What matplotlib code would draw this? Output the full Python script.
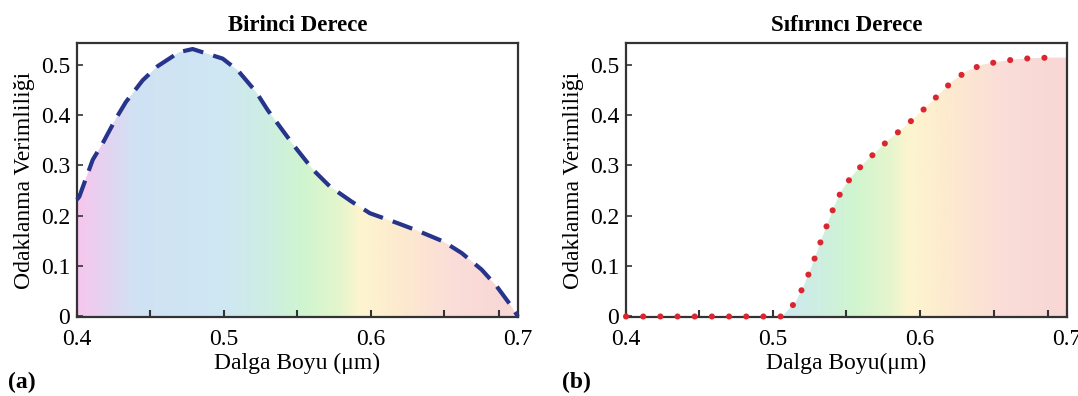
import numpy as np
import matplotlib
matplotlib.use("Agg")
import matplotlib.pyplot as plt
from matplotlib.colors import LinearSegmentedColormap
from matplotlib.patches import PathPatch

plt.rcParams["font.family"] = ["Liberation Serif", "DejaVu Serif"]

# birinci derece (first order) focusing efficiency
wl_first = [0.4000, 0.4016, 0.4107, 0.4175, 0.4265, 0.4333, 0.4447, 0.4549,
            0.4696, 0.4787, 0.4991, 0.5093, 0.5218, 0.5297, 0.5471, 0.5607,
            0.5721, 0.5869, 0.5993, 0.6175, 0.6311, 0.6492, 0.6617, 0.6753,
            0.6855, 0.6946, 0.7000]
eff_first = [0.232, 0.238, 0.311, 0.344, 0.393, 0.426, 0.469, 0.497,
             0.525, 0.531, 0.512, 0.489, 0.446, 0.410, 0.341, 0.291,
             0.258, 0.228, 0.205, 0.186, 0.171, 0.149, 0.126, 0.093,
             0.060, 0.024, 0.000]

# sifirinci derece (zeroth order) focusing efficiency
wl_zero = [0.400, 0.450, 0.506, 0.5150, 0.5206, 0.5252, 0.5293, 0.5331,
           0.5376, 0.5415, 0.5467, 0.5535, 0.5614, 0.5701, 0.5784, 0.5876,
           0.5966, 0.6050, 0.6136, 0.6220, 0.6318, 0.6424, 0.6540, 0.6658,
           0.6771, 0.6889]
eff_zero = [0.000, 0.000, 0.000, 0.027, 0.059, 0.091, 0.123, 0.154,
            0.188, 0.218, 0.250, 0.278, 0.303, 0.327, 0.350, 0.372,
            0.395, 0.418, 0.443, 0.467, 0.487, 0.500, 0.506, 0.511,
            0.513, 0.514]

# pastel visible-spectrum background used under the curves
spec_pos = [0.400, 0.420, 0.440, 0.500, 0.530, 0.555, 0.580, 0.592, 0.620, 0.660, 0.700]
spec_col = ["#f7c6ee", "#e3d4f1", "#d0e2f4", "#cfe7f3", "#cdeee2", "#d0f5cf",
            "#e6f6cd", "#fdf5cf", "#fdeacf", "#fadcd9", "#f8d7d5"]

XMIN, XMAX = 0.4, 0.7
YMIN, YMAX = -0.001, 0.543

cmap = LinearSegmentedColormap.from_list(
    "spec", [((p - XMIN) / (XMAX - XMIN), c) for p, c in zip(spec_pos, spec_col)])


def rainbow_fill(ax, x, y):
    # extend the last value to the right edge so the colour band fills the axes
    xs = list(x) + [XMAX] if x[-1] < XMAX else list(x)
    ys = list(y) + [y[-1]] if x[-1] < XMAX else list(y)
    poly = ax.fill_between(xs, ys, 0, facecolor="none", edgecolor="none")
    grad = np.linspace(0, 1, 512).reshape(1, -1)
    im = ax.imshow(grad, cmap=cmap, extent=[XMIN, XMAX, 0, YMAX],
                   aspect="auto", origin="lower", zorder=1)
    clip = PathPatch(poly.get_paths()[0], transform=ax.transData,
                     facecolor="none", edgecolor="none")
    ax.add_patch(clip)
    im.set_clip_path(clip)


def style_axes(ax, title, xlabel):
    ax.set_xlim(XMIN, XMAX)
    ax.set_ylim(YMIN, YMAX)
    ax.set_xticks([0.4, 0.5, 0.6, 0.7])
    ax.set_xticklabels(["0.4", "0.5", "0.6", "0.7"])
    ax.set_xticks([0.45, 0.55, 0.65, 0.687], minor=True)
    ax.set_yticks([0, 0.1, 0.2, 0.3, 0.4, 0.5])
    ax.set_yticklabels(["0", "0.1", "0.2", "0.3", "0.4", "0.5"])
    ax.tick_params(axis="x", which="both", direction="in", length=5, width=1.5,
                   color="#333333", labelsize=17, pad=9)
    ax.tick_params(axis="y", direction="in", length=4, width=1.2,
                   color="#333333", labelsize=17, pad=5)
    for s in ax.spines.values():
        s.set_linewidth(1.6)
        s.set_color("#333333")
    ax.set_title(title, fontsize=16.5, fontweight="bold", pad=9)
    ax.set_xlabel(xlabel, fontsize=17, labelpad=2)
    ax.set_ylabel("Odaklanma Verimliliği", fontsize=17, labelpad=4)


fig = plt.figure(figsize=(10.78, 3.96), dpi=100)
ax1 = fig.add_axes([0.0714, 0.1995, 0.4091, 0.6919])
ax2 = fig.add_axes([0.5807, 0.1995, 0.4091, 0.6919])

rainbow_fill(ax1, wl_first, eff_first)
ax1.plot(wl_first, eff_first, color="#27348b", lw=3.0, dashes=(5, 2.5),
         zorder=3, clip_on=False)
style_axes(ax1, "Birinci Derece", "Dalga Boyu (μm)")

rainbow_fill(ax2, wl_zero, eff_zero)
ax2.plot(wl_zero, eff_zero, color="#d9262f", lw=4.4, dashes=(0.01, 2.8),
         dash_capstyle="round", zorder=3, clip_on=False)
style_axes(ax2, "Sıfırıncı Derece", "Dalga Boyu(μm)")

fig.text(8 / 1078, 0.035, "(a)", fontsize=17, fontweight="bold", va="center")
fig.text(562 / 1078, 0.035, "(b)", fontsize=17, fontweight="bold", va="center")

fig.savefig("out.png", dpi=100)
